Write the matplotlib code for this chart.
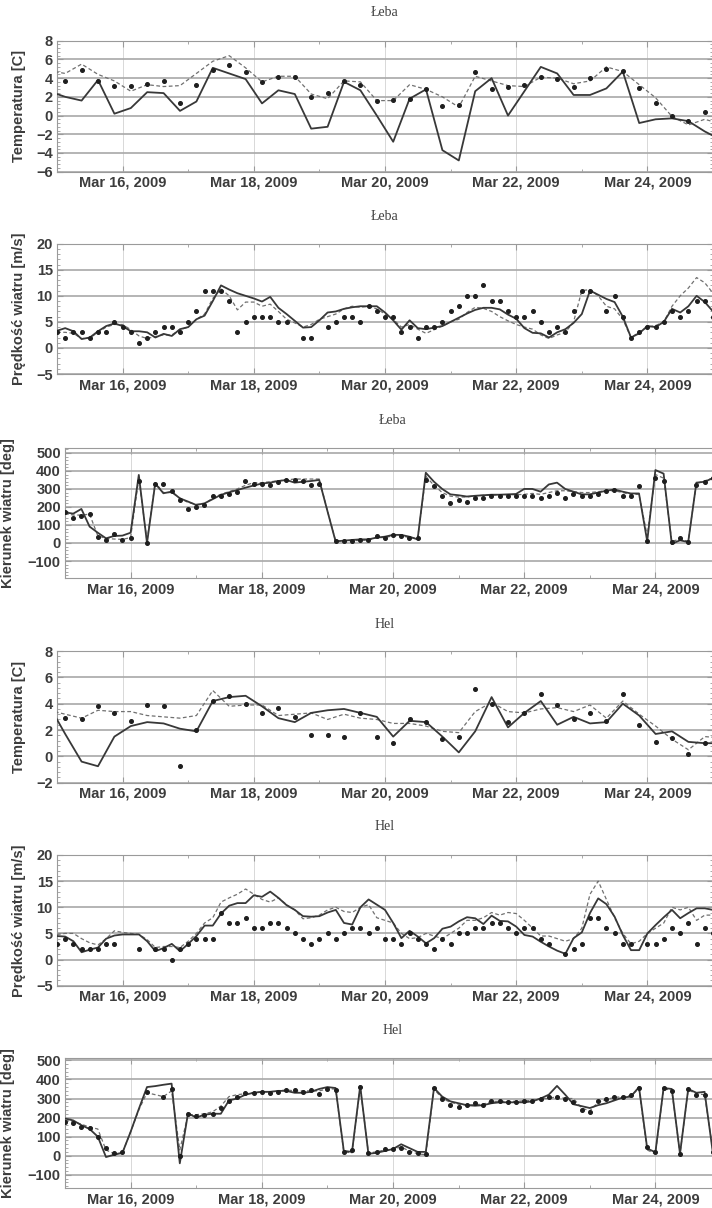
import numpy as np
import pandas as pd
import matplotlib
matplotlib.use('Agg')
import matplotlib.pyplot as plt
import matplotlib.dates as mdates
from matplotlib.ticker import MultipleLocator, AutoMinorLocator

plt.rcParams['font.family'] = ['Liberation Sans', 'DejaVu Sans']
plt.rcParams['font.weight'] = 'bold'

nan = np.nan

# czasy: temperatura co 6 h, wiatr co 3 h
t_temp = pd.date_range('2009-03-14 21:00', periods=42, freq='6h')
t_wind = pd.date_range('2009-03-15 00:00', periods=81, freq='3h')

# --- Łeba: temperatura ---
leba_temp_solid = [2.6, 2.0, 1.6, 3.8, 0.2, 0.8, 2.5, 2.4, 0.5, 1.5, 5.1, 4.5, 3.9, 1.3,
                   2.7, 2.3, -1.4, -1.2, 3.6, 2.7, 0.0, -2.8, 1.8, 2.8, -3.7, -4.8, 2.6,
                   4.0, 0.0, 2.6, 5.2, 4.5, 2.2, 2.2, 2.9, 4.7, -0.8, -0.4, -0.3, -0.6,
                   -1.7, -2.6]
leba_temp_dashed = [4.8, 4.5, 5.5, 4.4, 3.7, 2.6, 3.3, 3.1, 3.2, 4.5, 5.8, 6.4, 5.1, 3.6,
                    4.2, 4.2, 2.3, 1.8, 3.7, 3.6, 1.6, 1.6, 3.3, 2.8, 2.0, 0.9, 4.2, 3.7,
                    3.2, 3.1, 4.1, 4.0, 3.4, 3.7, 5.2, 4.7, 3.3, 1.9, -0.1, -1.0, -0.4,
                    -0.9]
leba_temp_obs = [nan, 3.7, 4.9, 3.7, 3.2, 3.2, 3.4, 3.7, 1.3, 3.3, 4.9, 5.4, 4.7, 3.6,
                 4.1, 4.1, 2.0, 2.4, 3.7, 3.3, 1.6, 1.7, 1.8, 2.8, 1.0, 1.1, 4.7, 2.8,
                 3.0, 3.3, 4.1, 3.9, 3.0, 4.0, 5.0, 4.8, 2.9, 1.3, -0.1, -0.6, 0.4, nan]

# --- Łeba: prędkość wiatru ---
leba_ws_solid = [3.3, 3.8, 3.2, 1.7, 2.0, 3.2, 4.2, 4.7, 4.2, 3.2,
                 3.2, 3.0, 2.0, 2.7, 2.3, 3.6, 4.0, 5.5, 6.2, 9.0,
                 12.0, 11.2, 10.5, 10.0, 9.5, 8.9, 9.8, 7.7, 6.5, 5.2,
                 3.9, 4.0, 5.3, 6.8, 7.0, 7.5, 7.8, 8.0, 8.0, 8.0,
                 6.8, 5.3, 3.5, 5.3, 3.8, 3.6, 3.9, 4.2, 5.0, 5.8,
                 6.6, 7.3, 7.7, 7.7, 7.4, 6.4, 5.6, 3.8, 2.9, 2.8,
                 2.0, 3.0, 3.6, 4.8, 6.5, 11.0, 10.2, 9.4, 8.8, 6.0,
                 2.0, 2.8, 4.2, 4.0, 5.0, 7.5, 6.8, 8.0, 10.0, 8.8,
                 7.0]
leba_ws_dashed = [3.0, 3.0, 2.8, 1.8, 1.9, 3.0, 4.0, 4.5, 4.5, 3.5,
                  2.3, 1.8, 2.2, 2.5, 2.5, 3.5, 4.0, 5.5, 6.5, 9.5,
                  11.3, 10.0, 7.3, 8.8, 8.8, 8.0, 8.4, 7.0, 5.5, 4.8,
                  4.0, 4.5, 5.5, 6.0, 6.5, 7.5, 8.0, 7.8, 8.0, 7.5,
                  6.5, 5.5, 4.0, 4.5, 3.6, 2.8, 3.5, 4.2, 5.0, 5.5,
                  6.8, 7.8, 7.6, 7.0, 6.0, 5.2, 4.5, 4.0, 3.6, 2.5,
                  1.8, 2.5, 3.0, 5.0, 11.0, 11.2, 10.0, 8.0, 7.5, 5.5,
                  2.0, 3.0, 4.0, 4.3, 5.0, 8.0, 10.0, 11.5, 13.5, 12.5,
                  10.5]
leba_ws_obs = [3, 2, 3, 3, 2, 3, 3, 5, 4, 3,
               1, 2, 3, 4, 4, 3, 5, 7, 11, 11,
               11, 9, 3, 5, 6, 6, 6, 5, 5, nan,
               2, 2, nan, 4, 5, 6, 6, 5, 8, 7,
               6, 6, 3, 4, 2, 4, 4, 5, 7, 8,
               10, 10, 12, 9, 9, 7, 6, 6, 7, 5,
               3, 4, 3, 7, 11, 11, nan, 7, 10, 6,
               2, 3, 4, 4, 5, 7, 6, 7, 9, 9,
               6]

# --- Łeba: kierunek wiatru ---
leba_wd_solid = [170, 163, 189, 91, 57, 26, 39, 41, 57, 378,
                 0, 330, 276, 285, 248, 230, 211, 220, 243, 267,
                 281, 294, 307, 319, 330, 335, 344, 350, 335, 340,
                 344, 350, 178, 9, 13, 17, 20, 20, 30, 35,
                 45, 45, 35, 20, 390, 340, 300, 270, 265, 258,
                 262, 265, 268, 268, 270, 272, 300, 300, 285, 325,
                 335, 300, 285, 270, 270, 280, 290, 297, 285, 275,
                 275, 10, 405, 385, -5, 15, 5, 335, 340, 360,
                 370]
leba_wd_dashed = [165, 155, 155, 160, 40, 25, 22, 20, 30, 360,
                  10, 335, 280, 280, 250, 225, 215, 215, 250, 270,
                  285, 300, 320, 335, 335, 340, 345, 350, 355, 355,
                  355, 355, 180, 12, 12, 12, 15, 15, 30, 30,
                  40, 40, 30, 25, 370, 320, 280, 260, 255, 255,
                  262, 265, 265, 268, 268, 268, 270, 275, 270, 280,
                  290, 290, 285, 280, 280, 285, 290, 290, 280, 270,
                  270, 40, 380, 360, 10, 20, 10, 330, 345, 360,
                  365]
leba_wd_obs = [170, 141, 150, 163, 31, 19, 52, 19, 30, 344,
               0, 330, 330, 289, 241, 191, 200, 213, 261, 261,
               270, 281, 344, 330, 330, 320, 341, 350, 350, 345,
               320, 330, nan, 9, 9, 9, 17, 15, 39, 26,
               44, 39, 26, 30, 350, 315, 259, 220, 241, 230,
               250, 252, 263, 263, 263, 263, 261, 259, 252, 263,
               280, 248, 274, 263, 263, 270, 289, 294, 263, 263,
               315, 9, 363, 344, 7, 30, 7, 322, 341, 363,
               nan]

# --- Hel: temperatura ---
hel_temp_solid = [3.9, 1.7, -0.4, -0.75, 1.5, 2.3, 2.6, 2.5, 2.1, 1.9, 4.2, 4.5, 4.6, 3.8,
                  2.9, 2.6, 3.3, 3.5, 3.6, 3.3, 3.0, 1.5, 2.7, 2.6, 1.5, 0.3, 1.9, 4.5,
                  2.2, 3.3, 4.2, 2.4, 3.0, 2.5, 2.6, 4.0, 3.1, 1.7, 1.9, 1.1, 1.0, 1.0]
hel_temp_dashed = [3.5, 3.2, 2.9, 3.5, 3.4, 3.4, 3.1, 3.0, 2.9, 3.1, 5.0, 3.8, 3.9, 3.9,
                   3.1, 3.2, 3.3, 2.8, 3.2, 2.9, 2.8, 2.5, 2.5, 2.3, 1.9, 1.8, 3.4, 4.1,
                   3.4, 3.3, 3.6, 3.7, 3.4, 3.9, 2.9, 4.2, 3.2, 2.3, 1.3, 0.5, 1.5, 1.4]
hel_temp_obs = [nan, 2.9, 2.8, 3.8, 3.3, 2.7, 3.9, 3.8, -0.7, 2.0, 4.2, 4.6, 4.0, 3.3,
                3.7, 3.0, 1.6, 1.6, 1.5, 3.3, 1.5, 1.0, 2.8, 2.6, 1.3, 1.5, 5.1, 4.0,
                2.6, 3.3, 4.7, 3.9, 2.8, 3.3, 2.7, 4.7, 2.4, 1.1, 1.4, 0.2, 1.0, nan]

# --- Hel: prędkość wiatru ---
hel_ws_solid = [4.5, 4.4, 3.5, 1.4, 1.9, 2.3, 4.0, 4.6, 4.8, 4.8,
                4.8, 3.5, 1.6, 2.2, 3.0, 1.6, 3.0, 4.5, 6.5, 6.5,
                8.8, 10.3, 10.8, 10.8, 12.3, 12.0, 13.0, 11.8, 10.4, 9.5,
                8.3, 8.2, 8.3, 9.0, 9.5, 7.0, 6.7, 10.0, 11.5, 10.5,
                9.5, 7.0, 4.1, 5.5, 4.4, 3.1, 4.1, 5.9, 6.3, 7.3,
                8.1, 7.9, 6.8, 8.4, 7.4, 7.3, 6.3, 4.7, 4.4, 3.4,
                2.5, 1.7, 1.1, 4.1, 5.2, 8.9, 11.7, 10.6, 8.2, 4.7,
                1.8, 1.8, 5.0, 6.6, 8.1, 9.5, 7.9, 8.9, 9.8, 9.8,
                9.5]
hel_ws_dashed = [4.8, 5.0, 5.0, 4.0, 3.2, 2.8, 4.0, 5.5, 5.2, 5.0,
                 4.8, 3.8, 2.3, 2.5, 2.5, 2.3, 3.5, 5.0, 7.0, 8.0,
                 11.0, 11.8, 12.5, 13.5, 12.5, 11.5, 11.0, 11.8, 10.5, 9.5,
                 7.8, 8.0, 8.5, 9.5, 10.0, 9.2, 9.0, 10.0, 10.5, 8.0,
                 7.5, 7.0, 5.0, 4.0, 4.2, 5.0, 4.5, 4.0, 5.0, 6.0,
                 7.5, 7.5, 8.0, 9.0, 8.5, 9.0, 8.8, 7.5, 6.0, 4.5,
                 4.5, 4.0, 3.5, 4.0, 6.0, 12.5, 15.0, 11.5, 8.0, 5.0,
                 3.0, 3.5, 5.0, 6.0, 7.0, 10.0, 9.5, 10.0, 7.5, 8.5,
                 8.5]
hel_ws_obs = [3, 4, 3, 2, 2, 2, 3, 3, nan, nan,
              2, nan, 2, 2, 0, 2, 3, 4, 4, 4,
              9, 7, 7, 8, 6, 6, 7, 7, 6, 5,
              4, 3, 4, 5, 4, 5, 6, 6, 5, 6,
              4, 4, 3, 5, 4, 3, 2, 4, 3, 5,
              5, 6, 6, 7, 7, 6, 5, 6, 6, 4,
              3, nan, 1, 2, 3, 8, 8, 6, 5, 3,
              3, nan, 3, 3, 4, 6, 5, 7, 3, 6,
              5]

# --- Hel: kierunek wiatru ---
hel_wd_solid = [195, 185, 160, 140, 100, -7, 5, 15, 125, 245,
                360, 365, 372, 378, -40, 222, 200, 215, 220, 220,
                290, 300, 320, 330, 335, 335, 340, 340, 330, 330,
                335, 350, 360, 355, 25, 20, 366, 10, 15, 25,
                35, 60, 40, 20, 20, 355, 310, 285, 275, 265,
                262, 265, 275, 280, 280, 280, 280, 285, 300, 320,
                366, 320, 270, 260, 250, 265, 275, 290, 305, 310,
                360, 38, 18, 355, 350, 10, 350, 330, 335, 18,
                15]
hel_wd_dashed = [185, 180, 165, 150, 140, 30, 10, 15, 125, 240,
                 330, 320, 310, 340, 30, 215, 215, 220, 230, 260,
                 310, 320, 325, 330, 335, 335, 340, 345, 340, 340,
                 340, 340, 350, 350, 20, 15, 360, 15, 20, 30,
                 35, 45, 25, 10, 5, 350, 300, 280, 270, 265,
                 268, 270, 285, 285, 285, 285, 288, 290, 300, 300,
                 310, 300, 300, 250, 235, 280, 295, 305, 310, 315,
                 350, 30, 10, 350, 345, 10, 345, 325, 320, 30,
                 20]
hel_wd_obs = [178, 170, 149, 147, 100, 42, 12, 17, nan, nan,
              336, nan, 306, 348, 0, 217, 208, 213, 217, 252,
              289, 306, 327, 327, 336, 327, 336, 345, 345, 336,
              345, 324, 348, 345, 17, 30, 362, 12, 19, 33,
              33, 42, 19, 12, 9, 355, 296, 268, 257, 266,
              278, 266, 289, 289, 282, 280, 285, 285, 299, 306,
              306, 300, 280, 240, 229, 289, 299, 310, 310, 320,
              357, 44, 19, 357, 339, 9, 348, 318, 317, 17,
              nan]

W, H = 712, 1208
fig = plt.figure(figsize=(W / 100, H / 100), dpi=100)

txt_col = '#3c3c3c'
x0 = pd.Timestamp('2009-03-15')
x1 = pd.Timestamp('2009-03-25')


def panel(left, top, bottom, t, solid, dashed, obs, ylim, ystep, ylabel, title, title_y, lab_x):
    ax = fig.add_axes([left / W, 1 - bottom / H, 656 / W, (bottom - top) / H])
    ax.plot(t, dashed, color='#707070', lw=0.9, ls=(0, (3, 2)), zorder=3)
    ax.plot(t, solid, color='#383838', lw=1.3, zorder=4)
    ax.plot(t, obs, ls='none', marker='o', ms=2.6, color='#1e1e1e', zorder=5)
    ax.set_xlim(x0, x1)
    ax.set_ylim(*ylim)
    ax.yaxis.set_major_locator(MultipleLocator(ystep))
    ax.yaxis.set_minor_locator(AutoMinorLocator(5))
    ax.xaxis.set_major_locator(mdates.DayLocator(bymonthday=[16, 18, 20, 22, 24]))
    ax.xaxis.set_minor_locator(mdates.DayLocator())
    ax.xaxis.set_major_formatter(mdates.DateFormatter('%b %d, %Y'))
    ax.set_axisbelow(True)
    ax.yaxis.grid(True, color='#a8a8a8', lw=1.2)
    ax.xaxis.grid(True, which='major', color='#d2d2d2', lw=0.6)
    for s in ax.spines.values():
        s.set_color('#9a9a9a')
        s.set_linewidth(0.8)
    ax.tick_params(which='both', direction='in', top=True, right=True,
                   color='#9a9a9a', labelsize=10.5, labelcolor=txt_col)
    ax.tick_params(which='major', length=4, pad=3)
    ax.tick_params(which='minor', length=2)
    ax.set_ylabel(ylabel, fontsize=10.5, fontweight='bold', color=txt_col)
    ax.yaxis.set_label_coords((lab_x - left) / 656, 0.5)
    fig.text((left + 328) / W, 1 - title_y / H, title, ha='center', va='center',
             family='Liberation Serif', weight='normal', fontsize=10, color='#404040')
    return ax


panel(57, 40.7, 171.7, t_temp, leba_temp_solid, leba_temp_dashed, leba_temp_obs,
      (-6, 8), 2, 'Temperatura [C]', 'Łeba', 13, 26)
panel(57, 243.7, 374, t_wind, leba_ws_solid, leba_ws_dashed, leba_ws_obs,
      (-5, 20), 5, 'Prędkość wiatru [m/s]', 'Łeba', 216, 26)
panel(65, 447.7, 578.3, t_wind, leba_wd_solid, leba_wd_dashed, leba_wd_obs,
      (-196, 529), 100, 'Kierunek wiatru [deg]', 'Łeba', 420, 15)
panel(57, 651, 782.7, t_temp, hel_temp_solid, hel_temp_dashed, hel_temp_obs,
      (-2, 8), 2, 'Temperatura [C]', 'Hel', 624, 26)
panel(57, 855, 985.7, t_wind, hel_ws_solid, hel_ws_dashed, hel_ws_obs,
      (-5, 20), 5, 'Prędkość wiatru [m/s]', 'Hel', 827, 26)
panel(65, 1057.7, 1188.3, t_wind, hel_wd_solid, hel_wd_dashed, hel_wd_obs,
      (-171, 514), 100, 'Kierunek wiatru [deg]', 'Hel', 1030, 15)

fig.savefig('out.png', dpi=100)
